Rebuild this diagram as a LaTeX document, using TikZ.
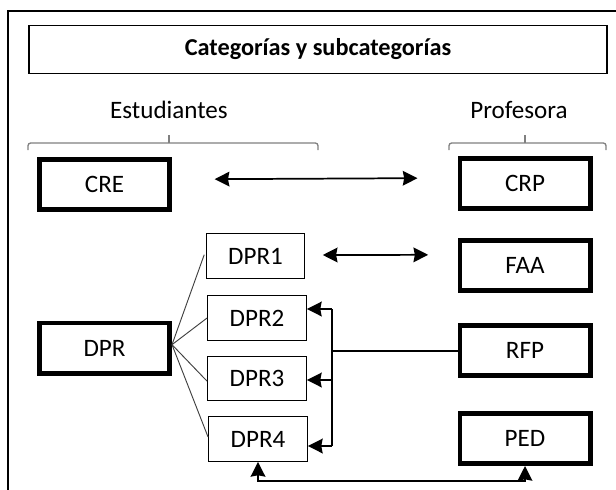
\documentclass[tikz,border=0pt]{standalone}
\usepackage{fontspec}
\setmainfont{Carlito}
\usetikzlibrary{arrows.meta}
\begin{document}
\begin{tikzpicture}[x=0.75pt,y=-0.75pt,
  font=\fontsize{18.8}{22}\selectfont,
  thickbox/.style={draw,line width=3.5pt,minimum width=97.75pt,minimum height=37.75pt,inner sep=0pt},
  thinbox/.style={draw,line width=0.9pt,minimum width=74pt,minimum height=33.5pt,inner sep=0pt},
  conn/.style={line width=1.3pt},
  tip/.style={-{Stealth[length=11pt,width=11pt,inset=1pt]}},
  dbl/.style={{Stealth[length=11pt,width=11pt,inset=1pt]}-{Stealth[length=11pt,width=11pt,inset=1pt]}},
  fan/.style={line width=0.7pt,black!75},
  brace/.style={line width=1pt,black!50,rounded corners=2pt}]
\useasboundingbox (0,0) rectangle (616,489);
% outer frame (clipped on right and bottom)
\draw[line width=1.5pt] (8,500) -- (8,11) -- (625,11);
% title
\node[draw,line width=1.1pt,minimum width=433.5pt,minimum height=36pt,inner sep=0pt,font=\fontsize{18.2}{21}\selectfont\bfseries] (title) at (318,49.5) {Categorías y subcategorías};
% headings
\node (est) at (169,110) {Estudiantes};
\node (prof) at (519,110) {Profesora};
% brackets
\draw[brace] (28,150) -- (28,143) -- (318,143) -- (318,150);
\draw[brace] (169,143) -- (169,135);
\draw[brace] (449,150) -- (449,143) -- (606,143) -- (606,150);
\draw[brace] (525,143) -- (525,135);
% thick boxes
\node[thickbox] (CRE) at (104.5,184.5) {CRE};
\node[thickbox] (CRP) at (525,183.5) {CRP};
\node[thickbox] (FAA) at (525,265.5) {FAA};
\node[thickbox] (DPR) at (104.5,348) {DPR};
\node[thickbox] (RFP) at (525,350.5) {RFP};
\node[thickbox] (PED) at (525,438.5) {PED};
% thin boxes
\node[thinbox] (DPR1) at (255.5,256) {DPR1};
\node[thinbox] (DPR2) at (257,318) {DPR2};
\node[thinbox] (DPR3) at (257,378.5) {DPR3};
\node[thinbox] (DPR4) at (258,439) {DPR4};
% fan lines
\coordinate (fanO) at ([yshift=2.5pt]DPR.east);
\draw[fan] (fanO) -- ([yshift=1pt,xshift=-1pt]DPR1.west);
\draw[fan] (fanO) -- (DPR2.west);
\draw[fan] (fanO) -- ([yshift=-2pt]DPR3.west);
\draw[fan] (fanO) -- ([yshift=1.5pt]DPR4.west);
% double arrows
\draw[conn,dbl] ([xshift=32pt,yshift=4pt]CRE.east) -- ([xshift=-30pt,yshift=4pt]CRP.west);
\draw[conn,dbl] ([xshift=13pt,yshift=0.75pt]DPR1.east) -- ([xshift=-22pt,yshift=8pt]FAA.west);
% RFP distribution
\coordinate (vtop) at (332,309);
\coordinate (vbot) at (332,446);
\coordinate (vmid) at (332,351);
\draw[conn] (vtop) -- (vbot);
\draw[line width=1pt] (RFP.west |- vmid) -- (vmid);
\draw[conn,tip] (vtop) -- (DPR2.east |- vtop);
\draw[conn,tip] (332,380) -- (DPR3.east |- 332,380);
\draw[conn,tip] (vbot) -- (DPR4.east |- vbot);
% bottom link
\draw[conn,dbl] (DPR4.south) -- ++(0,19) -| (PED.south);
\end{tikzpicture}
\end{document}
